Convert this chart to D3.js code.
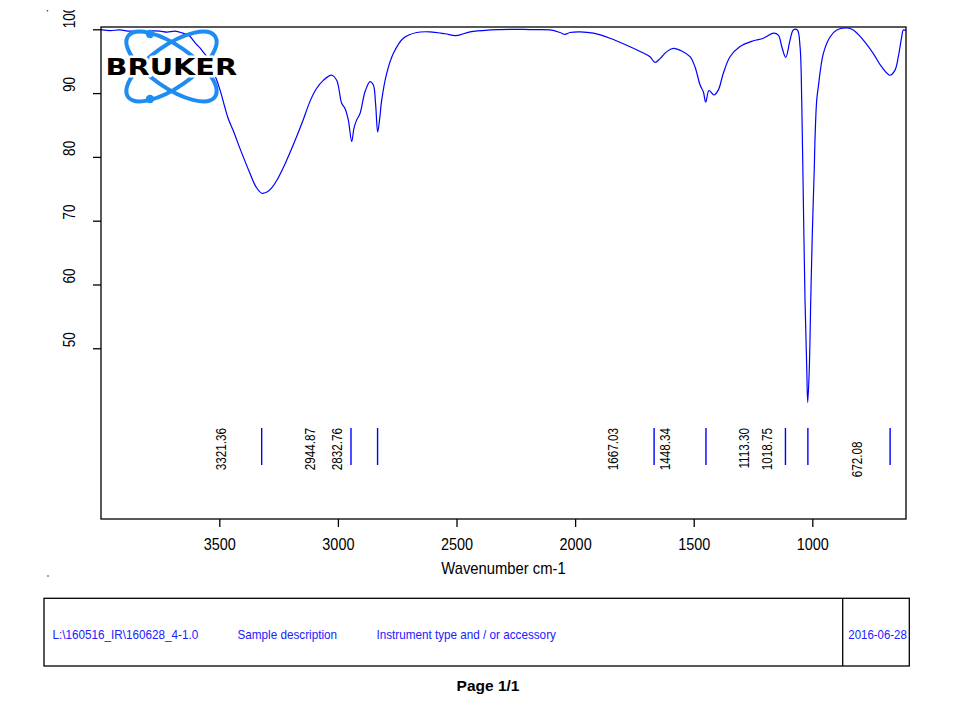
<!DOCTYPE html>
<html><head><meta charset="utf-8">
<script src="https://cdn.jsdelivr.net/npm/d3@7"></script>
<style>html,body{margin:0;padding:0;background:#fff;} svg{display:block;font-family:"Liberation Sans",Arial,sans-serif;}</style>
</head><body><svg id="c" width="953" height="701"></svg>
<script>
// ---- data ----
const wavenumbers = [3998.7, 3960, 3920, 3876.5, 3840, 3813.3, 3780, 3750, 3720, 3686.8, 3653, 3630, 3610.9, 3595, 3581.4, 3565, 3547.6, 3518.1, 3497, 3463.3, 3442.2, 3408.5, 3370.5, 3345.2, 3321.2, 3298.9, 3280, 3258, 3223, 3188, 3151.3, 3117.6, 3092.3, 3061.6, 3026.1, 3005.1, 2984, 2970.1, 2956.2, 2941.8, 2932.2, 2920.8, 2906.8, 2885.7, 2864.7, 2850.8, 2841.5, 2832.2, 2823.8, 2815.4, 2794.3, 2766.4, 2724.3, 2667.8, 2611.7, 2548.4, 2502, 2443, 2358.7, 2274.1, 2190.1, 2105.8, 2063.6, 2042.6, 2021.5, 1979.3, 1923.2, 1852.9, 1782.4, 1719.2, 1684.2, 1663.1, 1642, 1613.8, 1585.8, 1550.6, 1515.6, 1494.5, 1473.4, 1459.5, 1449.4, 1435.5, 1414.4, 1396.2, 1375.2, 1346.9, 1304.7, 1248.7, 1206.5, 1164.4, 1143.3, 1128.9, 1112.1, 1094, 1080.1, 1063.2, 1051.8, 1044.7, 1037.9, 1030.8, 1023.6, 1019.4, 1012.6, 1006.7, 1000, 991.6, 988.6, 981.5, 974.7, 953.7, 925.4, 897.2, 855, 827.2, 785.1, 742.9, 707.5, 672.5, 651.4, 637.5, 623.2, 616.4, 605.1];
const transmittance = [99.95, 99.8, 99.9, 99.7, 99.8, 99.6, 99.75, 99.7, 99.55, 99.7, 99.4, 99.1, 98.3, 97.6, 97.1, 96.3, 95.5, 92.8, 90.5, 86.1, 84.2, 80.9, 77.4, 75.3, 74.3, 74.5, 75.1, 76.3, 78.9, 81.9, 85.3, 88.7, 90.6, 92.0, 92.8, 92.0, 88.4, 87.6, 85.8, 82.4, 84.5, 85.8, 86.8, 90.2, 91.8, 91.3, 88.5, 83.9, 86.0, 88.9, 93.1, 96.2, 98.6, 99.5, 99.6, 99.3, 99.0, 99.6, 99.9, 100.0, 99.95, 99.9, 99.5, 99.2, 99.5, 99.6, 99.4, 98.6, 97.5, 96.4, 95.7, 94.8, 95.4, 96.5, 97.0, 96.6, 95.7, 94.1, 91.3, 90.2, 88.6, 90.4, 89.7, 90.5, 93.1, 95.7, 97.3, 98.2, 98.6, 99.4, 99.1, 97.3, 95.6, 98.3, 99.9, 99.9, 97.3, 88.9, 73.2, 57.5, 47, 41.5, 47, 57.5, 68, 78.4, 82.9, 88.9, 91, 96.2, 98.8, 99.9, 100.2, 99.9, 98.3, 96.2, 94.1, 92.8, 93.6, 95.7, 98.8, 99.9, 99.8];
const peakPositions = [3321.36, 2944.87, 2832.76, 1667.03, 1448.34, 1113.30, 1018.75, 672.08];
const peakLabels = ["3321.36", "2944.87", "2832.76", "1667.03", "1448.34", "1113.30", "1018.75", "672.08"];
const xTicks = [3500, 3000, 2500, 2000, 1500, 1000];
const yTicks = [50, 60, 70, 80, 90, 100];
const xDomain = [3998.7, 605.1];
const yDomain = [23.24, 100.36];
const xTitle = "Wavenumber cm-1";
const footerTexts = ["L:\\160516_IR\\160628_4-1.0", "Sample description", "Instrument type and / or accessory"];
const footerDate = "2016-06-28";
const pageLabel = "Page 1/1";
const logoText = "BRUKER";

// ---- layout ----
const L = 101, R = 906, T = 27, B = 519;
const svg = d3.select("#c");
const x = d3.scaleLinear().domain(xDomain).range([L, R]);
const y = d3.scaleLinear().domain(yDomain).range([B, T]);

function squeeze(sel, f) {
  sel.each(function () {
    const len = this.getComputedTextLength();
    d3.select(this).attr("textLength", len * f).attr("lengthAdjust", "spacingAndGlyphs");
  });
}

svg.append("defs").append("clipPath").attr("id", "topclip")
  .append("rect").attr("x", 0).attr("y", 10).attr("width", 953).attr("height", 691);

// spectrum
const data = wavenumbers.map((w, i) => [w, transmittance[i]]);
svg.append("path").datum(data)
  .attr("fill", "none").attr("stroke", "#0000ff").attr("stroke-width", 1.2)
  .attr("d", d3.line().x(d => x(d[0])).y(d => y(d[1])).curve(d3.curveCatmullRom.alpha(0.5)));

// frame
svg.append("rect").attr("x", L).attr("y", T).attr("width", R - L).attr("height", B - T)
  .attr("fill", "none").attr("stroke", "#000").attr("stroke-width", 1.3);

// x axis
const xa = svg.append("g").attr("transform", `translate(0,${B})`)
  .call(d3.axisBottom(x).tickValues(xTicks).tickSize(8).tickFormat(d3.format("d")));
xa.select(".domain").remove();
xa.selectAll("line").attr("stroke", "#000").attr("stroke-width", 1.3);
xa.selectAll("text").attr("font-size", 17).attr("fill", "#000").attr("dy", 0).attr("y", 31)
  .attr("font-family", '"Liberation Sans",Arial,sans-serif').call(squeeze, 0.85);

svg.append("text").attr("x", (L + R) / 2).attr("y", 574).attr("text-anchor", "middle")
  .attr("font-size", 17).text(xTitle).call(squeeze, 0.87);

// y axis
const ya = svg.append("g").attr("transform", `translate(${L},0)`)
  .call(d3.axisLeft(y).tickValues(yTicks).tickSize(8).tickFormat(d3.format("d")));
ya.select(".domain").remove();
ya.selectAll("line").attr("stroke", "#000").attr("stroke-width", 1.3);
ya.selectAll("text").remove();
svg.append("g").attr("clip-path", "url(#topclip)")
  .selectAll("text").data(yTicks).join("text")
  .attr("transform", d => `translate(75,${y(d) - 1}) rotate(-90)`)
  .attr("text-anchor", "start").attr("font-size", 16).attr("fill", "#000")
  .text(d => d).call(squeeze, 0.85);

// peak markers
const pk = svg.append("g");
pk.selectAll("line").data(peakPositions).join("line")
  .attr("x1", d => x(d)).attr("x2", d => x(d)).attr("y1", 428).attr("y2", 465)
  .attr("stroke", "#0000ff").attr("stroke-width", 1.4);
const shift = i => i === peakPositions.length - 1 ? { dx: 7.5, dy: 13.5 } : { dx: 0, dy: 0 };
pk.selectAll("text").data(peakPositions).join("text")
  .attr("transform", (d, i) => `translate(${x(d) - 36 + shift(i).dx},${428 + shift(i).dy}) rotate(-90)`)
  .attr("text-anchor", "end").attr("font-size", 15).attr("fill", "#000")
  .text((d, i) => peakLabels[i]).call(squeeze, 0.78);

// logo
const lg = svg.append("g").attr("transform", "translate(171.5,66.5)");
[35, -35].forEach(a => {
  lg.append("ellipse").attr("rx", 53).attr("ry", 21).attr("transform", `rotate(${a})`)
    .attr("fill", "none").attr("stroke", "#1e8cf0").attr("stroke-width", 4);
});
lg.append("text").attr("x", -66).attr("y", 8.5).attr("font-family", '"DejaVu Sans",sans-serif')
  .attr("font-weight", "bold").attr("font-size", 23).attr("fill", "#000")
  .attr("stroke", "#fff").attr("stroke-width", 5).attr("paint-order", "stroke").attr("stroke-linejoin", "round")
  .attr("textLength", 131.7).attr("lengthAdjust", "spacingAndGlyphs").text(logoText);
[[-21.5, -32.5], [-21.5, 32.5]].forEach(p => {
  lg.append("circle").attr("cx", p[0]).attr("cy", p[1]).attr("r", 4.2).attr("fill", "#1e8cf0");
});

// small marks
svg.append("circle").attr("cx", 47.5).attr("cy", 10.7).attr("r", 0.8).attr("fill", "#333");
svg.append("circle").attr("cx", 48).attr("cy", 576).attr("r", 0.8).attr("fill", "#333");

// footer box
svg.append("rect").attr("x", 44).attr("y", 598.3).attr("width", 909.3 - 44).attr("height", 666 - 598.3)
  .attr("fill", "none").attr("stroke", "#000").attr("stroke-width", 1.3);
svg.append("line").attr("x1", 842.7).attr("x2", 842.7).attr("y1", 598.3).attr("y2", 666)
  .attr("stroke", "#000").attr("stroke-width", 1.3);
const fx = [52.5, 237.5, 376.4];
svg.selectAll("text.ft").data(footerTexts).join("text").attr("class", "ft")
  .attr("x", (d, i) => fx[i]).attr("y", 639.3).attr("font-size", 13).attr("fill", "#2020ff")
  .text(d => d).call(squeeze, 0.9);
svg.append("text").attr("x", 848.3).attr("y", 639.3).attr("font-size", 13).attr("fill", "#2020ff")
  .text(footerDate).call(squeeze, 0.88);

svg.append("text").attr("x", 488).attr("y", 691).attr("text-anchor", "middle")
  .attr("font-size", 15.5).attr("font-weight", "bold").attr("fill", "#000").text(pageLabel);
</script>
</body></html>
